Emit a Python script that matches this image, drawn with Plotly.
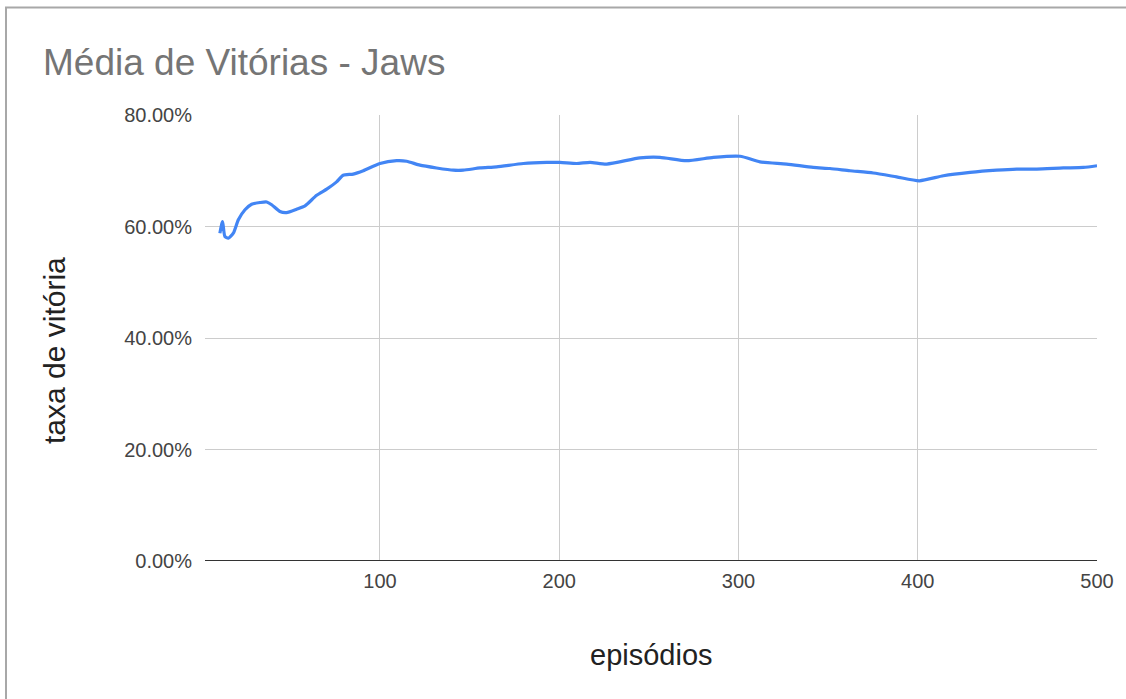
import plotly.graph_objects as go

# Values
episodes = [10.7, 12.2, 13.5, 15.4, 18.2, 21, 24.7, 28.4, 33.1, 36.8, 39.6, 44.2, 47.9,
            53.5, 58.2, 64.7, 70.3, 75.8, 79.5, 85.1, 90.7, 100, 109.3, 114.9, 122.3,
            131.6, 140.9, 146.5, 155.8, 165.1, 180, 193, 200.4, 209.7, 217.2, 226.5,
            245, 256.2, 271.1, 286, 300.9, 312, 326.9, 341.7, 351, 362.2, 375.2, 388.2,
            400.9, 414.3, 429.2, 444, 455.2, 466.4, 481.2, 492.4, 500]
win_rate = [58.8, 60.9, 58.2, 57.9, 58.8, 61.2, 63.0, 64.0, 64.3, 64.4, 63.9, 62.7, 62.5,
            63.1, 63.7, 65.6, 66.7, 68.0, 69.2, 69.4, 70.0, 71.3, 71.8, 71.7, 71.0,
            70.5, 70.1, 70.1, 70.5, 70.7, 71.3, 71.5, 71.5, 71.3, 71.5, 71.2,
            72.3, 72.4, 71.8, 72.4, 72.6, 71.6, 71.2, 70.6, 70.4, 70.0, 69.6, 68.9,
            68.2, 69.1, 69.7, 70.1, 70.3, 70.3, 70.5, 70.6, 70.9]
win_rate = [v / 100 for v in win_rate]

x_ticks = [100, 200, 300, 400, 500]
y_ticks = [0, 0.2, 0.4, 0.6, 0.8]
y_labels = ["0.00%", "20.00%", "40.00%", "60.00%", "80.00%"]

FONT = "Liberation Sans, Arial, sans-serif"

fig = go.Figure()
fig.add_trace(go.Scatter(
    x=episodes, y=win_rate, mode="lines",
    line=dict(color="#4285f4", width=3.2, shape="spline", smoothing=0.6),
    showlegend=False, hoverinfo="skip",
))

W, H = 1126, 699
L, R, T, B = 205, 29, 115, 138
pw, ph = W - L - R, H - T - B

def px(xp):
    return (xp - L) / pw

def py(yp):
    return (H - B - yp) / ph

fig.update_layout(
    width=W, height=H,
    margin=dict(l=L, r=R, t=T, b=B, pad=0),
    paper_bgcolor="white", plot_bgcolor="white",
    font=dict(family=FONT),
    title=dict(text="Média de Vitórias - Jaws", x=43 / W, xanchor="left",
               y=1 - 62 / H, yanchor="middle",
               font=dict(size=37, color="#757575", family=FONT)),
    xaxis=dict(range=[2.4, 500], tickvals=x_ticks, ticktext=[str(v) for v in x_ticks],
               showgrid=True, gridcolor="#cccccc", gridwidth=1,
               zeroline=False, showline=False, ticks="", ticklabelstandoff=6,
               tickfont=dict(size=20, color="#444444")),
    yaxis=dict(range=[0, 0.8], tickvals=y_ticks, ticktext=y_labels,
               showgrid=True, gridcolor="#cccccc", gridwidth=1,
               zeroline=False, showline=False, ticks="", ticklabelstandoff=12,
               tickfont=dict(size=20, color="#444444")),
    annotations=[
        dict(text="episódios", xref="paper", yref="paper", x=px(651), y=py(655),
             xanchor="center", yanchor="middle", showarrow=False,
             font=dict(size=29, color="#222222", family=FONT)),
        dict(text="taxa de vitória", xref="paper", yref="paper", x=px(54), y=py(351),
             xanchor="center", yanchor="middle", showarrow=False, textangle=-90,
             font=dict(size=30, color="#222222", family=FONT)),
    ],
    shapes=[
        # baseline at 0%
        dict(type="line", xref="paper", yref="y", x0=0, x1=1, y0=0, y1=0,
             line=dict(color="#333333", width=2)),
        # outer frame (top and left edges)
        dict(type="line", xref="paper", yref="paper", x0=px(5), x1=px(1126),
             y0=py(7.5), y1=py(7.5), line=dict(color="#a8a8a8", width=2)),
        dict(type="line", xref="paper", yref="paper", x0=px(6), x1=px(6),
             y0=py(7.5), y1=py(705), line=dict(color="#a8a8a8", width=2)),
    ],
)

fig.write_html("out.html", config={"displayModeBar": False},
               post_script="document.body.style.margin='0';document.body.style.overflow='hidden';")
